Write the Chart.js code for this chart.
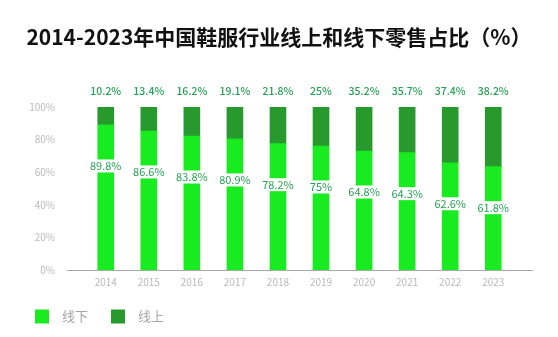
<!DOCTYPE html>
<html>
<head>
<meta charset="utf-8">
<script src="https://cdn.jsdelivr.net/npm/chart.js@4/dist/chart.umd.min.js"></script>
<style>
  html, body { margin: 0; padding: 0; background: #fff; }
  #wrap { width: 558px; height: 337px; }
</style>
</head>
<body>
<div id="wrap"><canvas id="chart"></canvas></div>
<script>
// ─── Data ───────────────────────────────────────────────────

const title = '2014-2023年中国鞋服行业线上和线下零售占比（%）';
const years = ['2014', '2015', '2016', '2017', '2018', '2019', '2020', '2021', '2022', '2023'];

// bar heights as drawn (%)
const offlineShare = [89.0, 85.3, 82.2, 80.4, 77.5, 76.1, 73.0, 72.0, 65.8, 63.4];
const onlineShare = [11.0, 14.7, 17.8, 19.6, 22.5, 23.9, 27.0, 28.0, 34.2, 36.6];

// value labels as printed
const offlineLabels = ['89.8%', '86.6%', '83.8%', '80.9%', '78.2%', '75%', '64.8%', '64.3%', '62.6%', '61.8%'];
const onlineLabels = ['10.2%', '13.4%', '16.2%', '19.1%', '21.8%', '25%', '35.2%', '35.7%', '37.4%', '38.2%'];

const yTicks = [0, 20, 40, 60, 80, 100];

const FONT = '"Noto Sans CJK SC", "Noto Sans", sans-serif';
const OFFLINE_COLOR = '#18eb1f';
const ONLINE_COLOR = '#27992d';
const LABEL_COLOR = '#26a153';

// ─── Plugins ────────────────────────────────────────────────

const titleText = {
  id: 'titleText',
  afterDraw(chart) {
    const ctx = chart.ctx;
    ctx.save();
    ctx.font = `bold 21px ${FONT}`;
    ctx.fillStyle = '#111';
    ctx.textAlign = 'center';
    ctx.textBaseline = 'middle';
    ctx.fillText(title, chart.width / 2, 37);
    ctx.restore();
  },
};

const valueLabels = {
  id: 'valueLabels',
  afterDatasetsDraw(chart) {
    const ctx = chart.ctx;
    const offMeta = chart.getDatasetMeta(0);
    const onMeta = chart.getDatasetMeta(1);
    ctx.save();
    ctx.textAlign = 'center';
    ctx.textBaseline = 'middle';

    offMeta.data.forEach((bar, i) => {
      ctx.font = `11px ${FONT}`;
      const cy = bar.y + 41;
      const w = ctx.measureText(offlineLabels[i]).width + 4;
      ctx.fillStyle = '#fff';
      ctx.fillRect(bar.x - w / 2, cy - 6.5, w, 13);
      ctx.fillStyle = LABEL_COLOR;
      ctx.fillText(offlineLabels[i], bar.x, cy);
    });

    onMeta.data.forEach((bar, i) => {
      ctx.font = `500 10.5px ${FONT}`;
      ctx.fillStyle = LABEL_COLOR;
      ctx.fillText(onlineLabels[i], bar.x, bar.y - 16);
    });
    ctx.restore();
  },
};

const bottomLegend = {
  id: 'bottomLegend',
  afterDraw(chart) {
    const ctx = chart.ctx;
    const cy = 316.5;
    ctx.save();
    ctx.font = `13px ${FONT}`;
    ctx.textBaseline = 'middle';
    ctx.textAlign = 'left';
    chart.data.datasets.forEach((ds, i) => {
      const x = 35 + i * 76;
      ctx.fillStyle = ds.backgroundColor;
      ctx.fillRect(x, cy - 7, 14, 14);
      ctx.fillStyle = '#a6a6a6';
      ctx.fillText(ds.label, x + 27, cy);
    });
    ctx.restore();
  },
};

// ─── Chart ──────────────────────────────────────────────────

new Chart(document.getElementById('chart'), {
  type: 'bar',
  data: {
    datasets: [
      {
        label: '线下',
        data: offlineShare.map((v, i) => ({ x: i, y: v })),
        backgroundColor: OFFLINE_COLOR,
        barThickness: 16,
      },
      {
        label: '线上',
        data: onlineShare.map((v, i) => ({ x: i, y: v })),
        backgroundColor: ONLINE_COLOR,
        barThickness: 16,
      },
    ],
  },
  plugins: [titleText, valueLabels, bottomLegend],
  options: {
    responsive: true,
    maintainAspectRatio: false,
    animation: false,
    layout: { padding: { top: 107, left: 0, right: 26, bottom: 0 } },
    plugins: {
      legend: { display: false },
      tooltip: { enabled: false },
      title: { display: false },
    },
    scales: {
      x: {
        type: 'linear',
        stacked: true,
        min: -0.36,
        max: 9.36,
        afterBuildTicks: s => { s.ticks = years.map((y, i) => ({ value: i })); },
        afterFit: s => { s.height = 67; },
        grid: { display: false, drawTicks: false },
        border: { display: true, color: '#a8a8a8', width: 1 },
        ticks: {
          padding: 6,
          color: '#b8b8b8',
          font: { family: FONT, size: 10 },
          autoSkip: false,
          maxRotation: 0,
          callback: v => years[v],
        },
      },
      y: {
        stacked: true,
        min: 0,
        max: 100,
        afterBuildTicks: s => { s.ticks = yTicks.map(v => ({ value: v })); },
        afterFit: s => { s.width = 67; },
        grid: { display: false, drawTicks: false },
        border: { display: false },
        ticks: {
          padding: 12,
          color: '#b8b8b8',
          font: { family: FONT, size: 10 },
          callback: v => v + '%',
        },
      },
    },
  },
});
</script>
</body>
</html>
